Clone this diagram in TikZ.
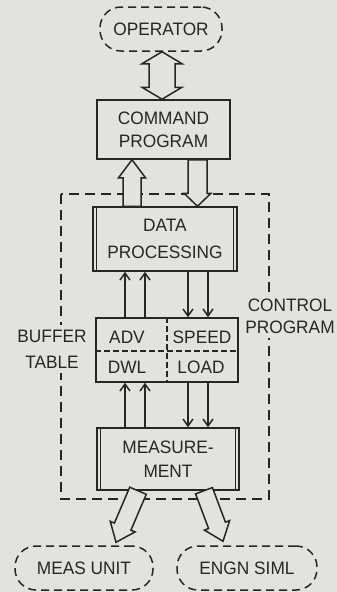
\documentclass[tikz,border=0pt]{standalone}
\usepackage{fontspec}
\setmainfont{Liberation Sans}[FakeStretch=0.96]
\usetikzlibrary{arrows.meta,calc}
\definecolor{paper}{RGB}{226,226,223}
\definecolor{ink}{RGB}{38,38,38}

% hollow block arrow: start, tip, shaft half width, head half width, head length
\newcommand\blockarrow[5]{%
  \coordinate (hb) at ($(#2)!#5!(#1)$);
  \draw[hollow] ($(#1)!#3!90:(#2)$) -- ($(hb)!#3!90:(#2)$) -- ($(hb)!#4!90:(#2)$)
    -- (#2) -- ($(hb)!#4!-90:(#2)$) -- ($(hb)!#3!-90:(#2)$) -- ($(#1)!#3!-90:(#2)$) -- cycle;}
% hollow arrow with a head at each end
\newcommand\twinarrow[5]{%
  \coordinate (ha) at ($(#1)!#5!(#2)$);
  \coordinate (hb) at ($(#2)!#5!(#1)$);
  \draw[hollow] (#1) -- ($(ha)!#4!90:(#2)$) -- ($(ha)!#3!90:(#2)$) -- ($(hb)!#3!90:(#2)$)
    -- ($(hb)!#4!90:(#2)$) -- (#2) -- ($(hb)!#4!-90:(#2)$) -- ($(hb)!#3!-90:(#2)$)
    -- ($(ha)!#3!-90:(#2)$) -- ($(ha)!#4!-90:(#2)$) -- cycle;}

\begin{document}
\begin{tikzpicture}[x=1pt,y=-1pt,
  every node/.style={text=ink, font=\fontsize{18}{23}\selectfont, align=center},
  block/.style={draw=ink, line width=1.5pt, inner sep=0pt},
  pill/.style={draw=ink, line width=1.5pt, dash pattern=on 8pt off 5pt, rounded corners=21pt, inner sep=0pt},
  hollow/.style={draw=ink, fill=paper, line width=1.5pt, line join=miter},
  thin/.style={draw=ink, line width=1.5pt, -{Straight Barb[length=7pt,width=10pt,line width=1.5pt]}},
  region/.style={draw=ink, line width=1.5pt, dash pattern=on 10pt off 6pt},
  label/.style={fill=paper, inner sep=5pt}]

\fill[paper] (0,0) rectangle (337,592);
\useasboundingbox (0,0) rectangle (337,592);

% outer dashed frame of the control program
\draw[region] (61,194) rectangle (269,499);

% blocks
\node[pill, minimum width=122pt, minimum height=44pt] (op) at (161,29) {OPERATOR};
\node[block, minimum width=133pt, minimum height=59pt] (cp) at (163.5,129.5) {COMMAND\\PROGRAM};
\node[block, minimum width=144pt, minimum height=64pt] (dp) at (165,239) {DATA\\[4pt]PROCESSING};
\node[block, minimum width=142pt, minimum height=64pt] (bt) at (167,350) {};
\node[block, minimum width=142pt, minimum height=62pt] (ms) at (168,459) {MEASURE-\\[1pt]MENT};
\node[pill, minimum width=138pt, minimum height=44pt] (mu) at (84,568) {MEAS UNIT};
\node[pill, minimum width=140pt, minimum height=44pt] (es) at (247,568) {ENGN SIML};

% double side lines of the processing blocks
\foreach \b in {dp,ms}{
  \draw[ink, line width=1.2pt] ([xshift=4.5pt]\b.north west) -- ([xshift=4.5pt]\b.south west);
  \draw[ink, line width=1.2pt] ([xshift=-4.5pt]\b.north east) -- ([xshift=-4.5pt]\b.south east);
}

% buffer table cells
\draw[ink, line width=1.2pt, dash pattern=on 6pt off 3pt] (bt.west |- 0,351) -- (bt.east |- 0,351);
\draw[ink, line width=1.2pt, dash pattern=on 6pt off 3pt] (bt.north -| 167,0) -- (bt.south -| 167,0);
\node (adv) at (127,337) {ADV};
\node (spd) at (202,337) {SPEED};
\node (dwl) at (127,367) {DWL};
\node (lod) at (201,367) {LOAD};

% side labels breaking the frame
\node[label, font=\fontsize{18}{26}\selectfont] (buf) at (52,349) {BUFFER\\TABLE};
\node[label, font=\fontsize{18}{22}\selectfont] (ctl) at (290,316) {CONTROL\\PROGRAM};

% column guides
\coordinate (cu) at (132,0);
\coordinate (cd) at (197.5,0);
\coordinate (opx) at (162,0);
\coordinate (l1) at (125,0);
\coordinate (l2) at (145,0);
\coordinate (r1) at (188,0);
\coordinate (r2) at (208,0);

% block arrows
\twinarrow{op.south -| opx}{cp.north -| opx}{13pt}{20pt}{12pt}
\blockarrow{dp.north -| cu}{cp.south -| cu}{9pt}{13.5pt}{18pt}
\blockarrow{cp.south -| cd}{dp.north -| cd}{9.5pt}{13.5pt}{13pt}
\coordinate (tl) at ($(mu.north)+(32,-3)$);
\coordinate (tr) at ($(es.north)+(-24,-4)$);
\blockarrow{ms.south -| 138,0}{tl}{9pt}{13.5pt}{17pt}
\blockarrow{ms.south -| 204,0}{tr}{9pt}{13.5pt}{17pt}

% data paths
\draw[thin] (bt.north -| l1) -- (dp.south -| l1);
\draw[thin] (bt.north -| l2) -- (dp.south -| l2);
\draw[thin] (dp.south -| r1) -- (bt.north -| r1);
\draw[thin] (dp.south -| r2) -- (bt.north -| r2);
\draw[thin] (ms.north -| l1) -- (bt.south -| l1);
\draw[thin] (ms.north -| l2) -- (bt.south -| l2);
\draw[thin] (bt.south -| r1) -- (ms.north -| r1);
\draw[thin] (bt.south -| r2) -- (ms.north -| r2);
\end{tikzpicture}
\end{document}
